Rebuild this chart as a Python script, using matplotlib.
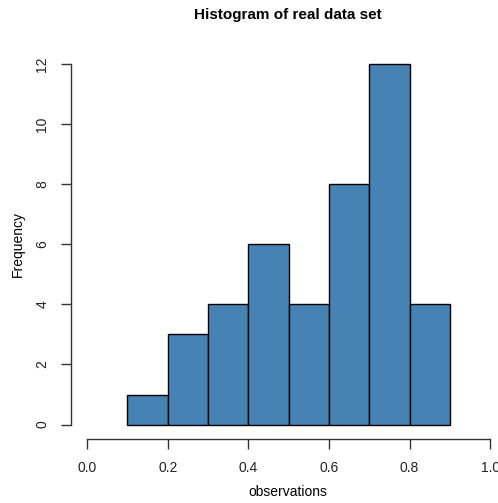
import numpy as np
import matplotlib
matplotlib.use('Agg')
import matplotlib.pyplot as plt

plt.rcParams['font.family'] = ['Liberation Sans', 'DejaVu Sans']

# histogram of the real data set (bin edges and counts)
breaks = [0.1, 0.2, 0.3, 0.4, 0.5, 0.6, 0.7, 0.8, 0.9]
counts = [1, 3, 4, 6, 4, 8, 12, 4]
xticks = [0.0, 0.2, 0.4, 0.6, 0.8, 1.0]
yticks = [0, 2, 4, 6, 8, 10, 12]

W, H = 498, 503
fig = plt.figure(figsize=(W/100, H/100), dpi=100)
# plot region like R: limits padded by 4%
left, right, top, bottom = 71, 506.3, 49.6, 439
ax = fig.add_axes([left/W, 1-bottom/H, (right-left)/W, (bottom-top)/H])

edges = np.array(breaks)
ax.bar(edges[:-1], counts, width=np.diff(edges), align='edge',
       color='steelblue', edgecolor='black', linewidth=1.0)

ax.set_xlim(-0.04, 1.04)
ax.set_ylim(-0.48, 12.48)

for s in ['top', 'right']:
  ax.spines[s].set_visible(False)
ax.spines['left'].set_bounds(0, 12)
ax.spines['bottom'].set_bounds(0, 1)
for s in ['left', 'bottom']:
  ax.spines[s].set_linewidth(1.0)
  ax.spines[s].set_color('#333333')

ax.set_xticks(xticks)
ax.set_xticklabels(['%.1f' % v for v in xticks])
ax.set_yticks(yticks)
ax.set_yticklabels([str(v) for v in yticks], rotation=90, va='center')
ax.tick_params(axis='both', direction='out', length=7.5, width=1.0,
               labelsize=10, color='#333333', labelcolor='#222222', pad=8)

fig.text(288/W, 1-15/H, 'Histogram of real data set',
         ha='center', va='center', fontsize=11, fontweight='bold')
fig.text(288/W, 1-492/H, 'observations', ha='center', va='center', fontsize=10)
fig.text(18/W, 1-244/H, 'Frequency', ha='center', va='center', fontsize=10,
         rotation=90)

fig.savefig('out.png', dpi=100)
